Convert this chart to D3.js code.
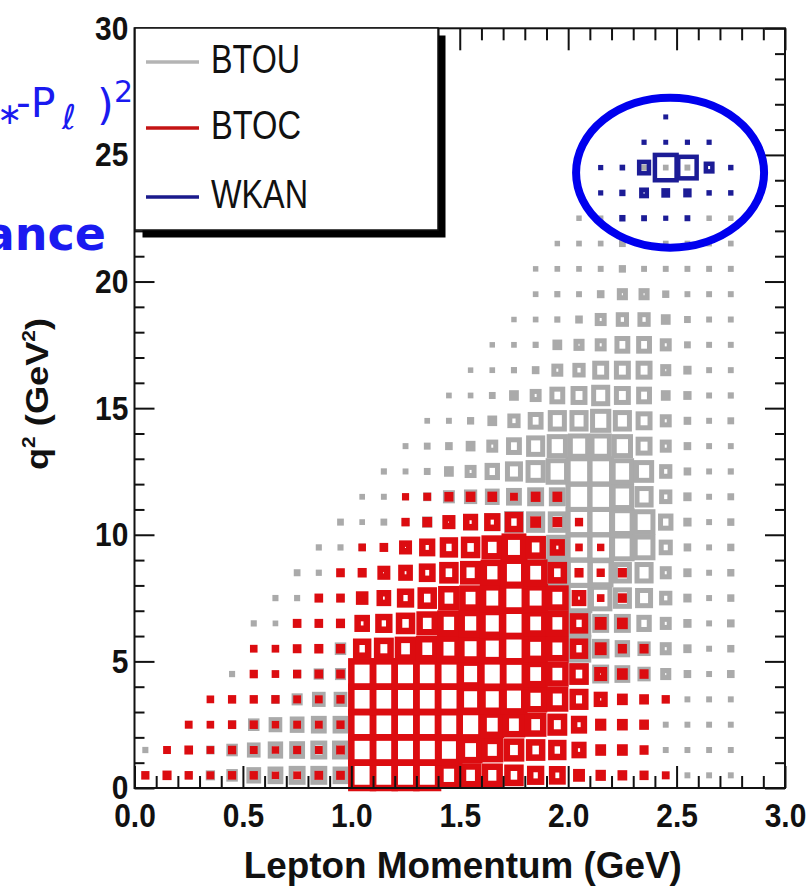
<!DOCTYPE html>
<html>
<head>
<meta charset="utf-8">
<script src="https://cdn.jsdelivr.net/npm/d3@7"></script>
<style>
  html, body { margin: 0; padding: 0; background: #ffffff; }
  svg { display: block; }
</style>
</head>
<body>
<script>
// ---------- axes ----------
const momentumDomain = [0, 3];          // GeV
const q2Domain = [0, 30];               // GeV^2
const momentumBinWidth = 0.1;
const q2BinWidth = 1;
const xMajorTicks = [0, 0.5, 1, 1.5, 2, 2.5, 3];
const xTickLabels = ["0.0", "0.5", "1.0", "1.5", "2.0", "2.5", "3.0"];
const yMajorTicks = [0, 5, 10, 15, 20, 25, 30];
const yTickLabels = ["0", "5", "10", "15", "20", "25", "30"];
const seriesNames = ["BTOU", "BTOC", "WKAN"];

// ---------- bin contents: one row per q² bin (lowest first), 30 momentum bins per row ----------
const btouCounts = [
  [0,3,12,20,30,45,50,55,55,50,100,100,100,100,78,70,68,60,50,48,25,18,15,10,5,4,4,4,0,0],
  [5,3,5,15,30,40,48,50,55,55,100,100,100,100,95,80,72,66,60,55,40,20,20,12,4,4,4,4,0,0],
  [0,0,3,4,15,30,40,45,50,50,100,100,100,100,100,100,80,75,70,62,45,22,20,15,4,4,4,4,0,0],
  [0,0,0,3,5,6,15,28,40,40,100,100,100,100,100,90,90,95,78,72,58,35,20,15,8,4,4,4,0,0],
  [0,0,0,0,5,5,8,15,25,28,100,100,100,100,100,90,100,100,80,75,66,55,50,38,28,12,4,12,0,0],
  [0,0,0,0,0,3,5,8,12,30,55,62,70,75,80,85,90,100,80,75,90,58,48,38,32,15,4,10,0,0],
  [0,0,0,0,0,5,3,10,10,15,42,50,60,70,78,82,90,100,80,75,90,55,55,48,32,15,4,12,0,0],
  [0,0,0,0,0,0,5,5,10,12,28,38,50,60,70,75,85,100,85,95,100,85,65,60,38,15,4,10,0,0],
  [0,0,0,0,0,0,0,8,5,10,12,30,38,48,60,68,78,95,85,100,100,95,65,65,32,15,4,10,0,0],
  [0,0,0,0,0,0,0,0,5,5,10,10,30,45,55,60,70,85,72,80,100,100,90,82,42,12,4,10,0,0],
  [0,0,0,0,0,0,0,0,0,8,3,8,12,25,35,45,52,68,65,65,100,100,90,82,48,15,4,10,0,0],
  [0,0,0,0,0,0,0,0,0,0,3,4,8,15,32,38,45,50,55,55,100,100,85,65,38,15,4,8,0,0],
  [0,0,0,0,0,0,0,0,0,0,0,5,4,8,22,32,48,60,70,85,100,100,85,70,38,12,4,5,0,0],
  [0,0,0,0,0,0,0,0,0,0,0,0,4,8,12,22,32,50,65,75,80,80,75,55,32,12,4,4,0,0],
  [0,0,0,0,0,0,0,0,0,0,0,0,0,3,4,10,22,38,50,65,65,75,65,55,32,12,4,8,0,0],
  [0,0,0,0,0,0,0,0,0,0,0,0,0,0,3,3,8,22,32,50,55,65,55,50,22,15,4,5,0,0],
  [0,0,0,0,0,0,0,0,0,0,0,0,0,0,0,2,3,5,12,32,38,55,55,55,28,15,4,4,0,0],
  [0,0,0,0,0,0,0,0,0,0,0,0,0,0,0,0,2,3,5,22,28,32,50,50,32,8,4,4,0,0],
  [0,0,0,0,0,0,0,0,0,0,0,0,0,0,0,0,0,2,3,5,12,32,38,38,22,8,4,4,0,0],
  [0,0,0,0,0,0,0,0,0,0,0,0,0,0,0,0,0,0,3,5,4,12,28,28,10,4,4,4,0,0],
  [0,0,0,0,0,0,0,0,0,0,0,0,0,0,0,0,0,0,2,3,3,4,10,4,4,4,4,4,0,0],
  [0,0,0,0,0,0,0,0,0,0,0,0,0,0,0,0,0,0,0,2,3,3,8,0,3,3,3,3,0,0],
  [0,0,0,0,0,0,0,0,0,0,0,0,0,0,0,0,0,0,0,0,2,2,0,0,0,0,2,2,0,0],
  [0,0,0,0,0,0,0,0,0,0,0,0,0,0,0,0,0,0,0,0,0,0,0,0,0,0,0,0,0,0],
  [0,0,0,0,0,0,0,0,0,0,0,0,0,0,0,0,0,0,0,0,0,0,0,4,3,4,0,0,0,0],
  [0,0,0,0,0,0,0,0,0,0,0,0,0,0,0,0,0,0,0,0,0,0,0,0,0,0,0,0,0,0],
  [0,0,0,0,0,0,0,0,0,0,0,0,0,0,0,0,0,0,0,0,0,0,0,0,0,0,0,0,0,0],
  [0,0,0,0,0,0,0,0,0,0,0,0,0,0,0,0,0,0,0,0,0,0,0,0,0,0,0,0,0,0],
  [0,0,0,0,0,0,0,0,0,0,0,0,0,0,0,0,0,0,0,0,0,0,0,0,0,0,0,0,0,0],
  [0,0,0,0,0,0,0,0,0,0,0,0,0,0,0,0,0,0,0,0,0,0,0,0,0,0,0,0,0,0]
];

const btocCounts = [
  [8,12,8,6,8,8,4,6,10,10,100,100,100,100,78,70,68,60,50,48,25,18,15,12,6,0,0,0,0,0],
  [0,6,10,5,8,6,4,7,6,10,100,100,100,100,95,80,72,66,60,55,40,20,20,12,0,0,0,0,0,0],
  [0,0,6,5,8,8,4,6,6,8,100,100,100,100,100,100,80,75,70,62,45,22,20,15,0,0,0,0,0,0],
  [0,0,0,5,8,8,8,6,6,8,100,100,100,100,100,90,90,95,78,72,58,35,20,15,8,0,0,0,0,0],
  [0,0,0,0,0,8,5,8,10,10,100,100,100,100,100,90,100,100,80,75,60,30,20,12,0,0,0,0,0,0],
  [0,0,0,0,0,5,5,10,12,12,55,62,70,75,80,85,90,100,80,75,55,25,12,12,0,0,0,0,0,0],
  [0,0,0,0,0,0,0,10,10,12,42,50,60,70,78,82,90,100,80,75,55,25,20,0,0,0,0,0,0,0],
  [0,0,0,0,0,0,0,0,10,10,28,38,50,60,70,75,85,100,85,75,38,5,12,0,0,0,0,0,0,0],
  [0,0,0,0,0,0,0,0,0,10,12,30,38,48,60,68,78,95,80,60,12,8,12,0,0,0,0,0,0,0],
  [0,0,0,0,0,0,0,0,0,0,5,10,30,45,55,60,70,85,65,40,5,4,0,0,0,0,0,0,0,0],
  [0,0,0,0,0,0,0,0,0,0,0,0,8,15,30,40,45,55,20,15,8,0,0,0,0,0,0,0,0,0],
  [0,0,0,0,0,0,0,0,0,0,0,0,3,6,12,15,15,6,15,15,0,0,0,0,0,0,0,0,0,0],
  [0,0,0,0,0,0,0,0,0,0,0,0,0,0,0,0,0,0,0,0,0,0,0,0,0,0,0,0,0,0],
  [0,0,0,0,0,0,0,0,0,0,0,0,0,0,0,0,0,0,0,0,0,0,0,0,0,0,0,0,0,0],
  [0,0,0,0,0,0,0,0,0,0,0,0,0,0,0,0,0,0,0,0,0,0,0,0,0,0,0,0,0,0],
  [0,0,0,0,0,0,0,0,0,0,0,0,0,0,0,0,0,0,0,0,0,0,0,0,0,0,0,0,0,0],
  [0,0,0,0,0,0,0,0,0,0,0,0,0,0,0,0,0,0,0,0,0,0,0,0,0,0,0,0,0,0],
  [0,0,0,0,0,0,0,0,0,0,0,0,0,0,0,0,0,0,0,0,0,0,0,0,0,0,0,0,0,0],
  [0,0,0,0,0,0,0,0,0,0,0,0,0,0,0,0,0,0,0,0,0,0,0,0,0,0,0,0,0,0],
  [0,0,0,0,0,0,0,0,0,0,0,0,0,0,0,0,0,0,0,0,0,0,0,0,0,0,0,0,0,0],
  [0,0,0,0,0,0,0,0,0,0,0,0,0,0,0,0,0,0,0,0,0,0,0,0,0,0,0,0,0,0],
  [0,0,0,0,0,0,0,0,0,0,0,0,0,0,0,0,0,0,0,0,0,0,0,0,0,0,0,0,0,0],
  [0,0,0,0,0,0,0,0,0,0,0,0,0,0,0,0,0,0,0,0,0,0,0,0,0,0,0,0,0,0],
  [0,0,0,0,0,0,0,0,0,0,0,0,0,0,0,0,0,0,0,0,0,0,0,0,0,0,0,0,0,0],
  [0,0,0,0,0,0,0,0,0,0,0,0,0,0,0,0,0,0,0,0,0,0,0,0,0,0,0,0,0,0],
  [0,0,0,0,0,0,0,0,0,0,0,0,0,0,0,0,0,0,0,0,0,0,0,0,0,0,0,0,0,0],
  [0,0,0,0,0,0,0,0,0,0,0,0,0,0,0,0,0,0,0,0,0,0,0,0,0,0,0,0,0,0],
  [0,0,0,0,0,0,0,0,0,0,0,0,0,0,0,0,0,0,0,0,0,0,0,0,0,0,0,0,0,0],
  [0,0,0,0,0,0,0,0,0,0,0,0,0,0,0,0,0,0,0,0,0,0,0,0,0,0,0,0,0,0],
  [0,0,0,0,0,0,0,0,0,0,0,0,0,0,0,0,0,0,0,0,0,0,0,0,0,0,0,0,0,0]
];

const wkanCounts = [
  [0,0,0,0,0,0,0,0,0,0,0,0,0,0,0,0,0,0,0,0,0,0,0,0,0,0,0,0,0,0],
  [0,0,0,0,0,0,0,0,0,0,0,0,0,0,0,0,0,0,0,0,0,0,0,0,0,0,0,0,0,0],
  [0,0,0,0,0,0,0,0,0,0,0,0,0,0,0,0,0,0,0,0,0,0,0,0,0,0,0,0,0,0],
  [0,0,0,0,0,0,0,0,0,0,0,0,0,0,0,0,0,0,0,0,0,0,0,0,0,0,0,0,0,0],
  [0,0,0,0,0,0,0,0,0,0,0,0,0,0,0,0,0,0,0,0,0,0,0,0,0,0,0,0,0,0],
  [0,0,0,0,0,0,0,0,0,0,0,0,0,0,0,0,0,0,0,0,0,0,0,0,0,0,0,0,0,0],
  [0,0,0,0,0,0,0,0,0,0,0,0,0,0,0,0,0,0,0,0,0,0,0,0,0,0,0,0,0,0],
  [0,0,0,0,0,0,0,0,0,0,0,0,0,0,0,0,0,0,0,0,0,0,0,0,0,0,0,0,0,0],
  [0,0,0,0,0,0,0,0,0,0,0,0,0,0,0,0,0,0,0,0,0,0,0,0,0,0,0,0,0,0],
  [0,0,0,0,0,0,0,0,0,0,0,0,0,0,0,0,0,0,0,0,0,0,0,0,0,0,0,0,0,0],
  [0,0,0,0,0,0,0,0,0,0,0,0,0,0,0,0,0,0,0,0,0,0,0,0,0,0,0,0,0,0],
  [0,0,0,0,0,0,0,0,0,0,0,0,0,0,0,0,0,0,0,0,0,0,0,0,0,0,0,0,0,0],
  [0,0,0,0,0,0,0,0,0,0,0,0,0,0,0,0,0,0,0,0,0,0,0,0,0,0,0,0,0,0],
  [0,0,0,0,0,0,0,0,0,0,0,0,0,0,0,0,0,0,0,0,0,0,0,0,0,0,0,0,0,0],
  [0,0,0,0,0,0,0,0,0,0,0,0,0,0,0,0,0,0,0,0,0,0,0,0,0,0,0,0,0,0],
  [0,0,0,0,0,0,0,0,0,0,0,0,0,0,0,0,0,0,0,0,0,0,0,0,0,0,0,0,0,0],
  [0,0,0,0,0,0,0,0,0,0,0,0,0,0,0,0,0,0,0,0,0,0,0,0,0,0,0,0,0,0],
  [0,0,0,0,0,0,0,0,0,0,0,0,0,0,0,0,0,0,0,0,0,0,0,0,0,0,0,0,0,0],
  [0,0,0,0,0,0,0,0,0,0,0,0,0,0,0,0,0,0,0,0,0,0,0,0,0,0,0,0,0,0],
  [0,0,0,0,0,0,0,0,0,0,0,0,0,0,0,0,0,0,0,0,0,0,0,0,0,0,0,0,0,0],
  [0,0,0,0,0,0,0,0,0,0,0,0,0,0,0,0,0,0,0,0,0,0,0,0,0,0,0,0,0,0],
  [0,0,0,0,0,0,0,0,0,0,0,0,0,0,0,0,0,0,0,0,0,0,0,0,0,0,0,0,0,0],
  [0,0,0,0,0,0,0,0,0,0,0,0,0,0,0,0,0,0,0,0,0,0,8,6,3,6,0,0,0,0],
  [0,0,0,0,0,0,0,0,0,0,0,0,0,0,0,0,0,0,0,0,0,3,8,25,20,18,4,4,0,0],
  [0,0,0,0,0,0,0,0,0,0,0,0,0,0,0,0,0,0,0,0,0,3,5,45,100,85,30,4,0,0],
  [0,0,0,0,0,0,0,0,0,0,0,0,0,0,0,0,0,0,0,0,0,0,0,3,2,3,3,0,0,0],
  [0,0,0,0,0,0,0,0,0,0,0,0,0,0,0,0,0,0,0,0,0,0,0,0,2,0,0,0,0,0],
  [0,0,0,0,0,0,0,0,0,0,0,0,0,0,0,0,0,0,0,0,0,0,0,0,0,0,0,0,0,0],
  [0,0,0,0,0,0,0,0,0,0,0,0,0,0,0,0,0,0,0,0,0,0,0,0,0,0,0,0,0,0],
  [0,0,0,0,0,0,0,0,0,0,0,0,0,0,0,0,0,0,0,0,0,0,0,0,0,0,0,0,0,0]
];

// ---------- drawing ----------
const width = 806, height = 888;
const plot = { left: 134.5, right: 785, top: 28.3, bottom: 788 };

const svg = d3.select("body").append("svg")
  .attr("width", width).attr("height", height)
  .attr("viewBox", `0 0 ${width} ${height}`);

const x = d3.scaleLinear().domain(momentumDomain).range([plot.left, plot.right]);
const y = d3.scaleLinear().domain(q2Domain).range([plot.bottom, plot.top]);

const cellW = x(momentumBinWidth) - x(0);
const cellH = y(0) - y(q2BinWidth);

const series = [
  { name: seriesNames[0], counts: btouCounts, color: "#aaaaaa", stroke: 5 },
  { name: seriesNames[1], counts: btocCounts, color: "#dc0c10", stroke: 6.5 },
  { name: seriesNames[2], counts: wkanCounts, color: "#1c1c96", stroke: 4.5 }
];

// Box histograms: box edges scale with bin content relative to the histogram maximum
series.forEach(s => {
  const maxCount = d3.max(s.counts, row => d3.max(row));
  const frac = d3.scaleLinear().domain([0, maxCount]).range([0, 1]);
  const cells = [];
  s.counts.forEach((row, j) => row.forEach((v, i) => {
    if (v > 0) cells.push({ i, j, v });
  }));
  svg.append("g").attr("class", "boxes " + s.name)
    .selectAll("rect").data(cells).join("rect")
    .attr("x", d => x((d.i + 0.5) * momentumBinWidth) - frac(d.v) * cellW / 2)
    .attr("y", d => y((d.j + 0.5) * q2BinWidth) - frac(d.v) * cellH / 2)
    .attr("width", d => frac(d.v) * cellW)
    .attr("height", d => frac(d.v) * cellH)
    .attr("fill", "none")
    .attr("stroke", s.color)
    .attr("stroke-width", s.stroke);
});

// ---------- frame and ticks ----------
const xMinor = d3.range(0, 31).map(k => k * momentumBinWidth).filter(v => Math.abs(v * 2 - Math.round(v * 2)) > 1e-6);
const yMinor = d3.range(0, 31).filter(v => v % 5 !== 0);

const tickFont = "bold 34px 'Liberation Sans', Arial, sans-serif";

function styleAxis(g) {
  g.select(".domain").remove();
  g.selectAll(".tick line").attr("stroke", "#111").attr("stroke-width", 2);
}

// bottom
svg.append("g").attr("transform", `translate(0,${plot.bottom})`)
  .call(d3.axisBottom(x).tickValues(xMajorTicks).tickSize(-22).tickPadding(15)
    .tickFormat((d, k) => xTickLabels[k]))
  .call(styleAxis)
  .call(g => g.selectAll("text").style("font", tickFont).attr("fill", "#111")
    .attr("transform", "scale(0.88,1)"));
svg.append("g").attr("transform", `translate(0,${plot.bottom})`)
  .call(d3.axisBottom(x).tickValues(xMinor).tickSize(-12).tickFormat(""))
  .call(styleAxis);
// top
svg.append("g").attr("transform", `translate(0,${plot.top})`)
  .call(d3.axisTop(x).tickValues(xMajorTicks).tickSize(-22).tickFormat(""))
  .call(styleAxis);
svg.append("g").attr("transform", `translate(0,${plot.top})`)
  .call(d3.axisTop(x).tickValues(xMinor).tickSize(-12).tickFormat(""))
  .call(styleAxis);
// left
svg.append("g").attr("transform", `translate(${plot.left},0)`)
  .call(d3.axisLeft(y).tickValues(yMajorTicks).tickSize(-20).tickPadding(7)
    .tickFormat((d, k) => yTickLabels[k]))
  .call(styleAxis)
  .call(g => g.selectAll("text").style("font", tickFont).attr("fill", "#111")
    .attr("transform", "scale(0.88,1)"));
svg.append("g").attr("transform", `translate(${plot.left},0)`)
  .call(d3.axisLeft(y).tickValues(yMinor).tickSize(-10).tickFormat(""))
  .call(styleAxis);
// right
svg.append("g").attr("transform", `translate(${plot.right},0)`)
  .call(d3.axisRight(y).tickValues(yMajorTicks).tickSize(-20).tickFormat(""))
  .call(styleAxis);
svg.append("g").attr("transform", `translate(${plot.right},0)`)
  .call(d3.axisRight(y).tickValues(yMinor).tickSize(-10).tickFormat(""))
  .call(styleAxis);

svg.append("rect")
  .attr("x", plot.left).attr("y", plot.top)
  .attr("width", plot.right - plot.left).attr("height", plot.bottom - plot.top)
  .attr("fill", "none").attr("stroke", "#111").attr("stroke-width", 2);

// axis titles
svg.append("text")
  .attr("x", (plot.left + plot.right) / 2 + 3).attr("y", 878)
  .attr("text-anchor", "middle")
  .attr("textLength", 438).attr("lengthAdjust", "spacingAndGlyphs")
  .style("font", "bold 36px 'Liberation Sans', Arial, sans-serif")
  .attr("fill", "#111")
  .text("Lepton Momentum (GeV)");

const yTitle = svg.append("text")
  .attr("transform", "translate(48,394) rotate(-90)")
  .attr("text-anchor", "middle")
  .attr("textLength", 152).attr("lengthAdjust", "spacingAndGlyphs")
  .style("font", "bold 31px 'Liberation Sans', Arial, sans-serif")
  .attr("fill", "#111");
yTitle.append("tspan").text("q");
yTitle.append("tspan").attr("dy", -13).style("font-size", "18px").text("2");
yTitle.append("tspan").attr("dy", 13).text(" (GeV");
yTitle.append("tspan").attr("dy", -13).style("font-size", "18px").text("2");
yTitle.append("tspan").attr("dy", 13).text(")");

// ---------- legend ----------
const legend = { x: 135, y: 28, w: 303, h: 202, shadow: 7.5 };
svg.append("rect")
  .attr("x", legend.x + legend.shadow).attr("y", legend.y + legend.shadow)
  .attr("width", legend.w).attr("height", legend.h)
  .attr("fill", "#000");
svg.append("rect")
  .attr("x", legend.x).attr("y", legend.y)
  .attr("width", legend.w).attr("height", legend.h)
  .attr("fill", "#fff").attr("stroke", "#111").attr("stroke-width", 1.5);

const legendRows = [
  { name: seriesNames[0], color: "#b4b4b4", cy: 62, tw: 89 },
  { name: seriesNames[1], color: "#c41414", cy: 128, tw: 90 },
  { name: seriesNames[2], color: "#1a1a8c", cy: 197, tw: 97 }
];
const lg = svg.append("g");
lg.selectAll("line").data(legendRows).join("line")
  .attr("x1", 146).attr("x2", 199)
  .attr("y1", d => d.cy).attr("y2", d => d.cy)
  .attr("stroke", d => d.color).attr("stroke-width", 3.5);
lg.selectAll("text").data(legendRows).join("text")
  .attr("x", 211).attr("y", d => d.cy + 11)
  .attr("textLength", d => d.tw).attr("lengthAdjust", "spacingAndGlyphs")
  .style("font", "40px 'Liberation Sans', Arial, sans-serif")
  .attr("fill", "#111")
  .text(d => d.name);

// ---------- highlight around the WKAN cluster ----------
svg.append("ellipse")
  .attr("cx", x(2.47)).attr("cy", y(24.3))
  .attr("rx", 94).attr("ry", 75)
  .attr("fill", "none").attr("stroke", "#0000ee").attr("stroke-width", 8);

// ---------- slide text at the left edge ----------
const blue = "#1a1af0";
const sans = "'DejaVu Sans', sans-serif";
svg.append("text").attr("x", -3).attr("y", 124).attr("fill", blue)
  .style("font", `30px ${sans}`).text("\u2217");
svg.append("text").attr("x", 16).attr("y", 117).attr("fill", blue)
  .style("font", `41px ${sans}`).text("-P");
svg.append("text").attr("x", 62).attr("y", 129).attr("fill", blue)
  .style("font", `italic 34px ${sans}`).text("\u2113");
svg.append("text").attr("x", 97).attr("y", 120).attr("fill", blue)
  .style("font", `43px ${sans}`).text(")");
svg.append("text").attr("x", 114).attr("y", 102).attr("fill", blue)
  .style("font", `30px ${sans}`).text("2");
svg.append("text").attr("x", 106).attr("y", 250).attr("text-anchor", "end").attr("fill", blue)
  .style("font", `bold 46px ${sans}`).text("ance");
</script>
</body>
</html>
